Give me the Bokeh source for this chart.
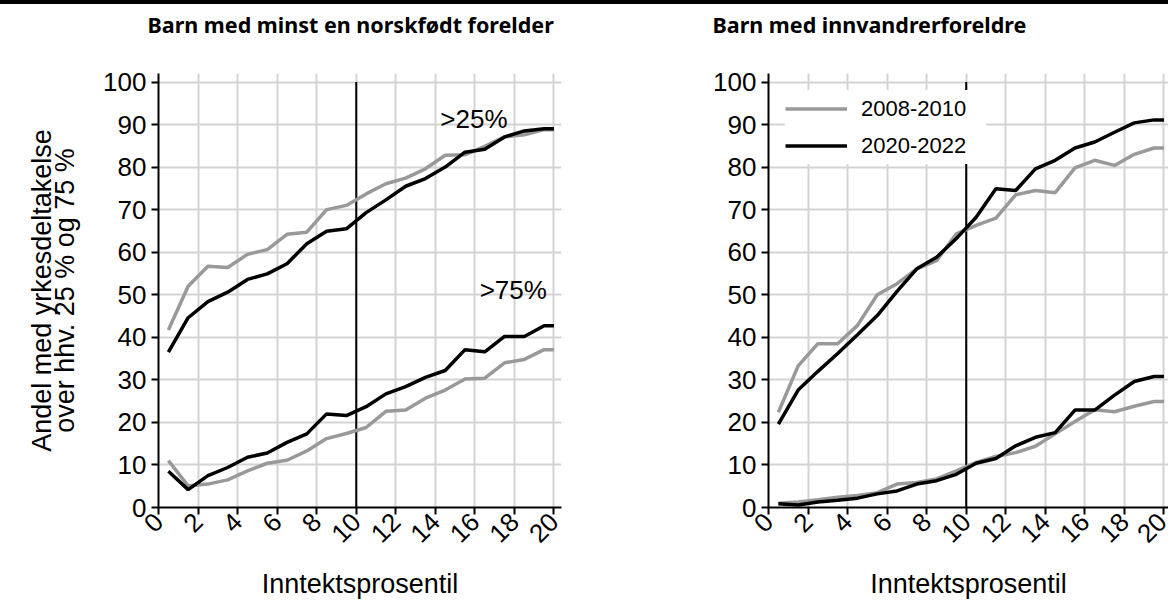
import math
from bokeh.plotting import figure
from bokeh.layouts import row, column
from bokeh.models import Legend, LegendItem, Label, Range1d, FixedTicker, Div, LinearAxis
from bokeh.core.properties import value
from bokeh.embed import file_html
from bokeh.resources import INLINE

# ---------------- data ----------------
pct = [0.5, 1.5, 2.5, 3.5, 4.5, 5.5, 6.5, 7.5, 8.5, 9.5,
       10.5, 11.5, 12.5, 13.5, 14.5, 15.5, 16.5, 17.5, 18.5, 19.5, 20.0]

# Barn med minst en norskfødt forelder
nor_25_0810 = [41.7, 52.0, 56.7, 56.4, 59.5, 60.6, 64.2, 64.7, 70.0, 71.0,
               73.7, 76.1, 77.4, 79.6, 82.8, 82.9, 84.9, 87.1, 87.6, 88.8, 88.8]
nor_25_2022 = [36.5, 44.6, 48.4, 50.6, 53.6, 54.9, 57.3, 62.0, 64.9, 65.5,
               69.3, 72.3, 75.5, 77.3, 80.0, 83.5, 84.2, 87.1, 88.5, 89.0, 89.0]
nor_75_0810 = [11.0, 5.1, 5.5, 6.5, 8.6, 10.4, 11.1, 13.3, 16.2, 17.4,
               18.8, 22.6, 22.9, 25.7, 27.6, 30.2, 30.4, 34.0, 34.8, 37.1, 37.1]
nor_75_2022 = [8.5, 4.2, 7.5, 9.4, 11.8, 12.8, 15.3, 17.3, 22.0, 21.6,
               23.7, 26.7, 28.4, 30.6, 32.2, 37.1, 36.6, 40.2, 40.2, 42.7, 42.7]

# Barn med innvandrerforeldre
inn_25_0810 = [22.4, 33.3, 38.5, 38.5, 42.8, 50.0, 52.6, 56.1, 58.0, 64.3,
               66.3, 68.0, 73.5, 74.5, 74.0, 79.8, 81.6, 80.4, 83.0, 84.5, 84.5]
inn_25_2022 = [19.6, 27.6, 32.0, 36.2, 40.6, 45.1, 50.8, 56.1, 58.8, 63.2,
               68.2, 74.9, 74.5, 79.6, 81.6, 84.5, 85.9, 88.2, 90.4, 91.1, 91.1]
inn_75_0810 = [1.0, 1.3, 1.8, 2.4, 2.8, 3.5, 5.5, 5.9, 6.7, 8.6,
               10.6, 12.0, 12.9, 14.4, 17.3, 20.2, 23.0, 22.5, 23.8, 24.9, 24.9]
inn_75_2022 = [0.9, 0.6, 1.3, 1.7, 2.2, 3.2, 3.9, 5.5, 6.3, 7.8,
               10.4, 11.5, 14.5, 16.5, 17.6, 22.9, 22.9, 26.4, 29.6, 30.8, 30.8]

series_names = ["2008-2010", "2020-2022"]
x_ticks = [0, 2, 4, 6, 8, 10, 12, 14, 16, 18, 20]
y_ticks = [0, 10, 20, 30, 40, 50, 60, 70, 80, 90, 100]
median_group = 10
titles = ["Barn med minst en norskfødt forelder", "Barn med innvandrerforeldre"]
x_label = "Inntektsprosentil"
y_label_lines = ["Andel med yrkesdeltakelse", "over hhv. 25 % og 75 %"]
ann_texts = [">25%", ">75%"]

# ---------------- style ----------------
GREY = "#999999"
BLACK = "#000000"
GRID = "#d3d3d3"
FONT = "Liberation Sans"
LW = 3.5
W_LEFT, W_RIGHT = 585, 583
TITLE_H = 40
FIG_H = 561


def title_strip(text, width, text_x):
    t = figure(width=width, height=TITLE_H, output_backend="svg", toolbar_location=None,
               x_range=Range1d(0, width), y_range=Range1d(0, TITLE_H),
               x_axis_location=None, y_axis_location=None, min_border=0)
    t.outline_line_color = None
    t.xgrid.visible = False
    t.ygrid.visible = False
    t.text(x=[text_x], y=[20], text=[text], text_font=value("Noto Sans"),
           text_font_style="bold", text_font_size="21.5px", text_color=BLACK,
           text_align="left", text_baseline="alphabetic")
    return t


def make_panel(width, border_left, border_right, x_end, s25a, s25b, s75a, s75b):
    p = figure(width=width, height=FIG_H, output_backend="svg", toolbar_location=None,
               x_range=Range1d(0, x_end), y_range=Range1d(0, 102),
               min_border_left=border_left, min_border_right=border_right,
               min_border_top=29, min_border_bottom=98)
    p.outline_line_color = None
    p.background_fill_color = "white"
    p.border_fill_color = "white"

    for ax in (p.xaxis[0], p.yaxis[0]):
        ax.axis_line_color = BLACK
        ax.axis_line_width = 2
        ax.major_tick_line_color = BLACK
        ax.major_tick_line_width = 2
        ax.major_tick_out = 7
        ax.major_tick_in = 0
        ax.minor_tick_line_color = None
        ax.major_label_text_font = FONT
        ax.major_label_text_font_size = "26px"
        ax.major_label_text_color = BLACK
        ax.axis_label_text_font = FONT
        ax.axis_label_text_font_style = "normal"
        ax.axis_label_text_font_size = "27px"
        ax.axis_label_text_color = BLACK

    p.xaxis.ticker = FixedTicker(ticks=x_ticks)
    p.yaxis.ticker = FixedTicker(ticks=y_ticks)
    p.xaxis.major_label_orientation = math.pi / 4
    p.xaxis.major_label_standoff = 3
    p.xaxis.axis_label = x_label
    p.xaxis.axis_label_standoff = 15
    p.yaxis.major_label_standoff = 5

    p.xgrid.ticker = FixedTicker(ticks=x_ticks)
    p.ygrid.ticker = FixedTicker(ticks=y_ticks)
    for g in (p.xgrid[0], p.ygrid[0]):
        g.grid_line_color = GRID
        g.grid_line_width = 2

    p.segment(x0=[median_group], y0=[0], x1=[median_group], y1=[100], line_color=BLACK, line_width=2)

    ra = p.line(pct, s25a, line_color=GREY, line_width=LW)
    rb = p.line(pct, s25b, line_color=BLACK, line_width=LW)
    p.line(pct, s75a, line_color=GREY, line_width=LW)
    p.line(pct, s75b, line_color=BLACK, line_width=LW)
    return p, ra, rb


left, _, _ = make_panel(W_LEFT, 158, 24, 20.38,
                        nor_25_0810, nor_25_2022, nor_75_0810, nor_75_2022)
left.add_layout(Label(x=14.25, y=87.7, text=ann_texts[0], text_font=FONT,
                      text_font_size="26px", text_color=BLACK))
left.add_layout(Label(x=16.24, y=47.6, text=ann_texts[1], text_font=FONT,
                      text_font_size="26px", text_color=BLACK))
# two-line y-axis title: second line on the main axis, first line on an outer bare axis
left.yaxis[0].axis_label = y_label_lines[1]
left.yaxis[0].axis_label_standoff = 20
outer = LinearAxis(ticker=FixedTicker(ticks=[]), axis_label=y_label_lines[0],
                   axis_line_color=None, major_tick_line_color=None,
                   minor_tick_line_color=None, axis_label_standoff=-9,
                   axis_label_text_font=FONT, axis_label_text_font_style="normal",
                   axis_label_text_font_size="27px", axis_label_text_color=BLACK)
left.add_layout(outer, "left")

right, ra, rb = make_panel(W_RIGHT, 183, 0, 20.23,
                           inn_25_0810, inn_25_2022, inn_75_0810, inn_75_2022)
legend = Legend(items=[LegendItem(label=series_names[0], renderers=[ra]),
                       LegendItem(label=series_names[1], renderers=[rb])],
                location="top_left")
legend.margin = 17
legend.padding = 10
legend.spacing = 0
legend.glyph_width = 62
legend.glyph_height = 37
legend.label_height = 37
legend.label_width = 125
legend.label_standoff = 14
legend.label_text_font = FONT
legend.label_text_font_size = "22px"
legend.label_text_color = BLACK
legend.border_line_color = None
legend.background_fill_color = "white"
legend.background_fill_alpha = 1.0
right.add_layout(legend)

top_rule = Div(text="", width=W_LEFT + W_RIGHT, height=4, margin=0,
               styles={"background-color": "#000000"})
title_row = row(title_strip(titles[0], W_LEFT, 147), title_strip(titles[1], W_RIGHT, 127), spacing=0)

layout = column(top_rule, title_row, row(left, right, spacing=0), spacing=0)
open("out.html", "w").write(file_html(layout, INLINE))
